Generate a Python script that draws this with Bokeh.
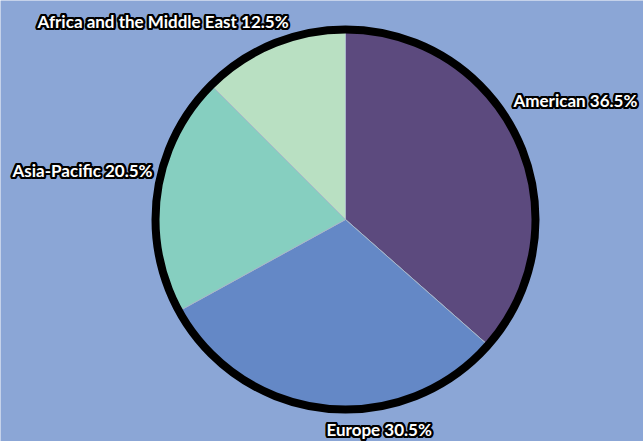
import math
from bokeh.plotting import figure
from bokeh.models import Range1d, ColumnDataSource
from bokeh.core.properties import value
from bokeh.embed import file_html
from bokeh.resources import INLINE

# ---- data ----
regions = ["American", "Europe", "Asia-Pacific", "Africa and the Middle East"]
shares = [36.5, 30.5, 20.5, 12.5]
colors = ["#5C4A7E", "#6488C6", "#86CFC0", "#B9E0C2"]

# ---- layout ----
W, H = 643, 441
BG = "#8BA6D6"
CX, CY, R = 345, H - 219, 190
# label anchors (left edge, baseline) in pixel space from top-left
label_pos = [(513, 100), (326, 429), (12, 170), (37, 21)]

total = sum(shares)
starts, ends = [], []
cum = 0.0
for s in shares:
    starts.append(math.pi / 2 - 2 * math.pi * cum / total)
    cum += s
    ends.append(math.pi / 2 - 2 * math.pi * cum / total)

p = figure(width=W, height=H, output_backend="svg", toolbar_location=None,
           x_range=Range1d(0, W), y_range=Range1d(0, H), min_border=0)
p.axis.visible = False
p.grid.visible = False
p.outline_line_color = None
p.background_fill_color = BG
p.border_fill_color = BG

src = ColumnDataSource(dict(start=starts, end=ends, color=colors))
p.wedge(x=CX, y=CY, radius=R, start_angle="start", end_angle="end",
        direction="clock", fill_color="color", line_color="#A9B7C9",
        line_width=1, source=src)
p.circle(x=CX, y=CY, radius=R, fill_color=None, line_color="black", line_width=8)

labels = [f"{r} {s}%" for r, s in zip(regions, shares)]
lx = [pos[0] for pos in label_pos]
ly = [H - pos[1] for pos in label_pos]
lsrc = ColumnDataSource(dict(x=lx, y=ly, t=labels))
font = value("Lato")
for k in range(16):
    a = 2 * math.pi * k / 16
    p.text(x="x", y="y", text="t", source=lsrc, x_offset=2.2 * math.cos(a),
           y_offset=2.2 * math.sin(a), text_color="black", text_font=font,
           text_font_size="17px", text_font_style="bold", text_align="left",
           text_baseline="alphabetic")
p.text(x="x", y="y", text="t", source=lsrc, text_color="white", text_font=font,
       text_font_size="17px", text_font_style="bold", text_align="left",
       text_baseline="alphabetic")

open("out.html", "w").write(file_html(p, INLINE))
